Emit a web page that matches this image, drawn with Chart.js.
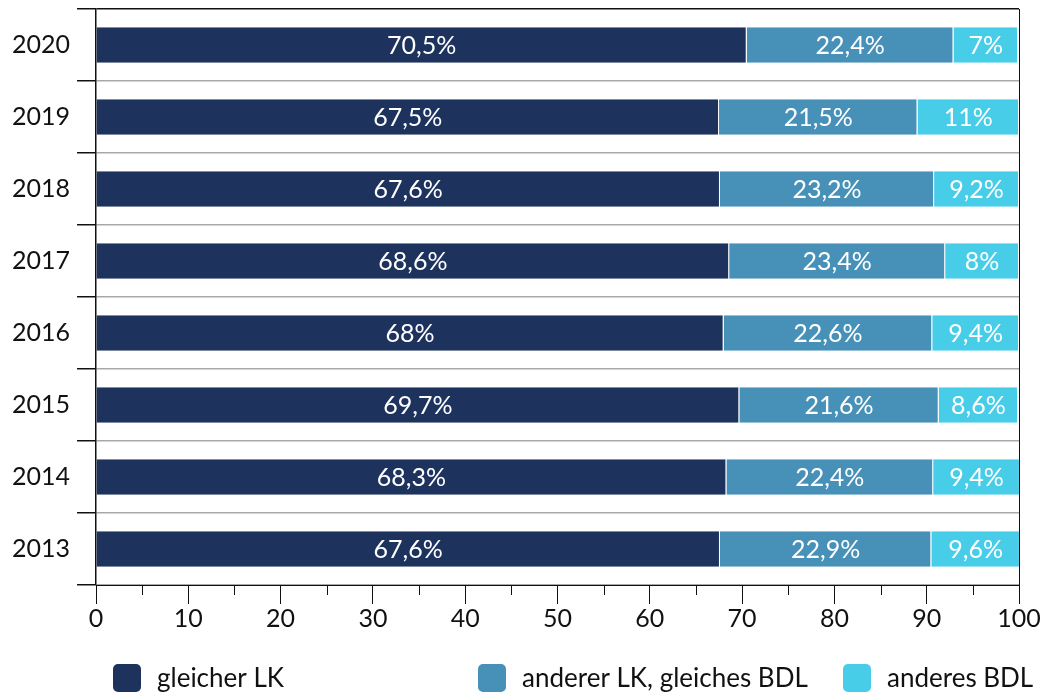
<!DOCTYPE html>
<html>
<head>
<meta charset="utf-8">
<script src="https://cdn.jsdelivr.net/npm/chart.js@4/dist/chart.umd.min.js"></script>
<style>
  html, body { margin: 0; padding: 0; background: #fff; }
  #wrap { width: 1046px; height: 695px; }
</style>
</head>
<body>
<div id="wrap"><canvas id="chart" width="1046" height="695"></canvas></div>
<script>
const years = ["2020", "2019", "2018", "2017", "2016", "2015", "2014", "2013"];
const gleicherLK = [70.5, 67.5, 67.6, 68.6, 68, 69.7, 68.3, 67.6];
const andererLK = [22.4, 21.5, 23.2, 23.4, 22.6, 21.6, 22.4, 22.9];
const anderesBDL = [7, 11, 9.2, 8, 9.4, 8.6, 9.4, 9.6];
const seriesNames = ["gleicher LK", "anderer LK, gleiches BDL", "anderes BDL"];
const seriesColors = ["#1d335e", "#4790b8", "#48cde9"];
const minorTicks = [5, 15, 25, 35, 45, 55, 65, 75, 85, 95];

const FONT = "Lato, 'Open Sans', sans-serif";

const fmt = (v) => (Number.isInteger(v) ? String(v) : v.toFixed(1).replace(".", ",")) + "%";

// white value labels in the middle of each segment
const barLabels = {
  id: "barLabels",
  afterDatasetsDraw(chart) {
    const ctx = chart.ctx;
    ctx.save();
    ctx.fillStyle = "#fff";
    ctx.font = "25px " + FONT;
    ctx.textAlign = "center";
    ctx.textBaseline = "middle";
    chart.data.datasets.forEach((ds, i) => {
      chart.getDatasetMeta(i).data.forEach((bar, j) => {
        ctx.fillText(fmt(ds.data[j]), (bar.x + bar.base) / 2, bar.y + 1);
      });
    });
    ctx.restore();
  },
};

// short ticks at the 5s on the value axis
const minorTickMarks = {
  id: "minorTickMarks",
  afterDraw(chart) {
    const sx = chart.scales.x;
    const ctx = chart.ctx;
    ctx.save();
    ctx.strokeStyle = "#111";
    ctx.lineWidth = 1;
    minorTicks.forEach((v) => {
      const px = Math.round(sx.getPixelForValue(v)) + 0.5;
      ctx.beginPath();
      ctx.moveTo(px, sx.top);
      ctx.lineTo(px, sx.top + 10);
      ctx.stroke();
    });
    ctx.restore();
  },
};

// legend laid out in three fixed columns
const columnLegend = {
  id: "columnLegend",
  afterDraw(chart) {
    const ctx = chart.ctx;
    const left = chart.chartArea.left + 17;
    const colW = 365;
    const y = 664;
    ctx.save();
    ctx.font = "26px " + FONT;
    ctx.textBaseline = "middle";
    ctx.textAlign = "left";
    chart.data.datasets.forEach((ds, i) => {
      const x = left + i * colW;
      ctx.fillStyle = ds.backgroundColor;
      ctx.beginPath();
      ctx.roundRect(x, y, 28, 28, 5);
      ctx.fill();
      ctx.fillStyle = "#111";
      ctx.fillText(ds.label, x + 44, y + 15);
    });
    ctx.restore();
  },
};

const data = {
  labels: years,
  datasets: [gleicherLK, andererLK, anderesBDL].map((vals, i) => ({
    label: seriesNames[i],
    data: vals,
    backgroundColor: seriesColors[i],
    borderColor: "#fff",
    borderWidth: { top: 0, right: 1, bottom: 0, left: 0 },
    borderSkipped: false,
    barPercentage: 0.49,
    categoryPercentage: 1,
  })),
};

new Chart(document.getElementById("chart"), {
  type: "bar",
  data: data,
  options: {
    indexAxis: "y",
    responsive: false,
    animation: false,
    layout: { padding: { top: 9, right: 27, bottom: 0, left: 0 } },
    plugins: {
      legend: { display: false },
      tooltip: { enabled: false },
    },
    scales: {
      x: {
        stacked: true,
        min: 0,
        max: 100,
        ticks: { stepSize: 10, color: "#111", font: { family: FONT, size: 25 }, padding: 0 },
        grid: {
          color: (c) => (c.tick && c.tick.value === 100 ? "#111" : "rgba(0,0,0,0)"),
          tickColor: "#111",
          tickLength: 19,
        },
        border: { color: "#111", width: 1 },
        afterFit: (s) => { s.height = 110; },
      },
      y: {
        stacked: true,
        ticks: { color: "#111", font: { family: FONT, size: 25 }, padding: 7 },
        grid: {
          offset: true,
          color: (c) => (c.index === 0 || c.index === years.length ? "#111" : "#a9a9a9"),
          tickColor: "#111",
          tickLength: 19,
          lineWidth: 1.5,
        },
        border: { color: "#111", width: 1.5 },
        afterFit: (s) => { s.width = 96; s.paddingTop = 0; s.paddingBottom = 0; },
      },
    },
  },
  plugins: [barLabels, minorTickMarks, columnLegend],
});
</script>
</body>
</html>
